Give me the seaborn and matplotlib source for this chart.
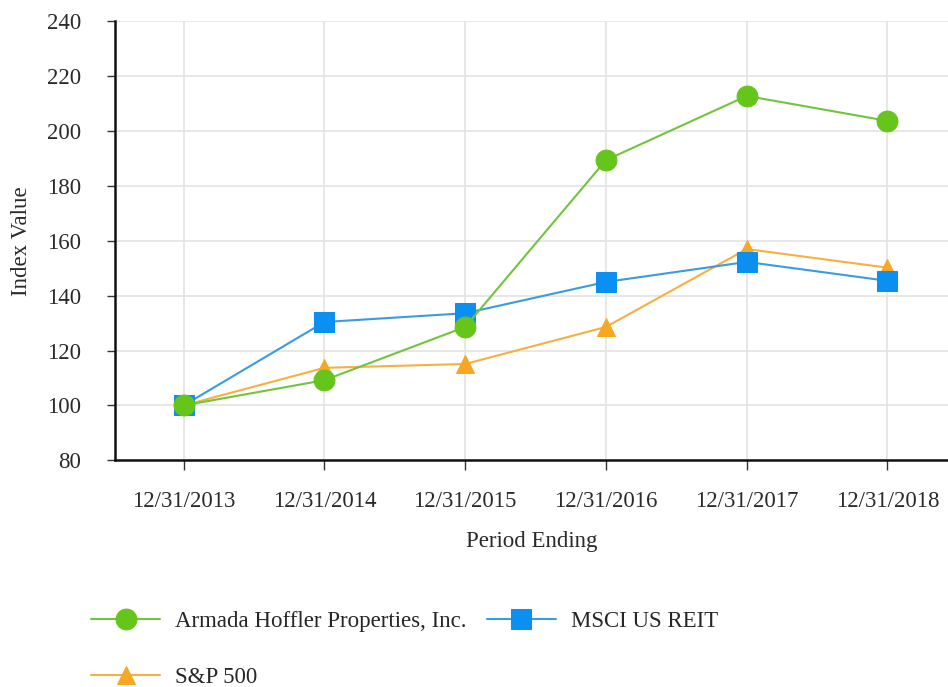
import pandas as pd
import matplotlib
matplotlib.use("Agg")
import matplotlib.pyplot as plt
import seaborn as sns

# Cumulative total return index values
periods = ["12/31/2013", "12/31/2014", "12/31/2015", "12/31/2016", "12/31/2017", "12/31/2018"]
armada = [100.0, 109.2, 128.6, 189.4, 212.8, 203.7]
msci_reit = [100.0, 130.4, 133.6, 145.0, 152.3, 145.4]
sp500 = [100.0, 113.7, 115.1, 128.6, 157.0, 150.2]

series_names = ["Armada Hoffler Properties, Inc.", "MSCI US REIT", "S&P 500"]

df = pd.DataFrame({
    "period": periods * 3,
    "idx": list(range(len(periods))) * 3,
    "value": armada + msci_reit + sp500,
    "series": [n for n in series_names for _ in periods],
})

sns.set_theme(style="white")
plt.rcParams["font.family"] = ["Liberation Serif", "DejaVu Serif"]

palette = {
    "Armada Hoffler Properties, Inc.": "#66c51a",
    "MSCI US REIT": "#0b8ff0",
    "S&P 500": "#f6a823",
}
line_colors = {
    "Armada Hoffler Properties, Inc.": "#72c43e",
    "MSCI US REIT": "#3a9be0",
    "S&P 500": "#f5b040",
}
markers = {"Armada Hoffler Properties, Inc.": "o", "MSCI US REIT": "s", "S&P 500": "^"}
msizes = {"Armada Hoffler Properties, Inc.": 15, "MSCI US REIT": 14.5, "S&P 500": 12.5}
zorders = {"Armada Hoffler Properties, Inc.": 5, "MSCI US REIT": 4, "S&P 500": 3}

fig = plt.figure(figsize=(9.48, 6.87), dpi=100)
ax = fig.add_axes([0.121, 0.330, 0.879, 0.639])

for name in ["S&P 500", "MSCI US REIT", "Armada Hoffler Properties, Inc."]:
    sub = df[df["series"] == name]
    sns.lineplot(
        data=sub, x="idx", y="value", ax=ax,
        color=line_colors[name], linewidth=1.5,
        marker=markers[name], markersize=msizes[name],
        markerfacecolor=palette[name], markeredgecolor=palette[name],
        label=name, zorder=zorders[name],
    )

ax.set_xlim(-0.49, 5.43)
ax.set_ylim(80, 240)
ax.set_yticks(range(80, 241, 20))
ax.set_xticks(range(len(periods)))
ax.set_xticklabels(periods)
ax.tick_params(axis="both", labelsize=16.5, width=1, color="#333333",
               labelcolor="#2a2a2a", direction="out", bottom=True, left=True)
ax.tick_params(axis="x", length=7, pad=15)
ax.tick_params(axis="y", length=6, pad=18)
ax.grid(True, color="#e3e3e3", linewidth=1.2)
ax.set_axisbelow(True)

for side in ["top", "right"]:
    ax.spines[side].set_visible(False)
for side in ["left", "bottom"]:
    ax.spines[side].set_color("#111111")
    ax.spines[side].set_linewidth(1.8)

ax.set_xlabel("Period Ending", fontsize=16.5, labelpad=14, color="#2a2a2a")
ax.set_ylabel("Index Value", fontsize=16.5, labelpad=11, color="#2a2a2a")

handles, labels = ax.get_legend_handles_labels()
# column-first fill: Armada, S&P in column 1, MSCI in column 2
order = [labels.index(n) for n in ["Armada Hoffler Properties, Inc.", "S&P 500", "MSCI US REIT"]]
ax.get_legend().remove()
fig.legend([handles[i] for i in order], [labels[i] for i in order],
           loc="upper left", bbox_to_anchor=(0.0745, 0.140), ncol=2,
           frameon=False, fontsize=16.5, handlelength=3.0, handletextpad=0.65,
           columnspacing=0.9, labelspacing=1.5)

fig.savefig("out.png", dpi=100)
